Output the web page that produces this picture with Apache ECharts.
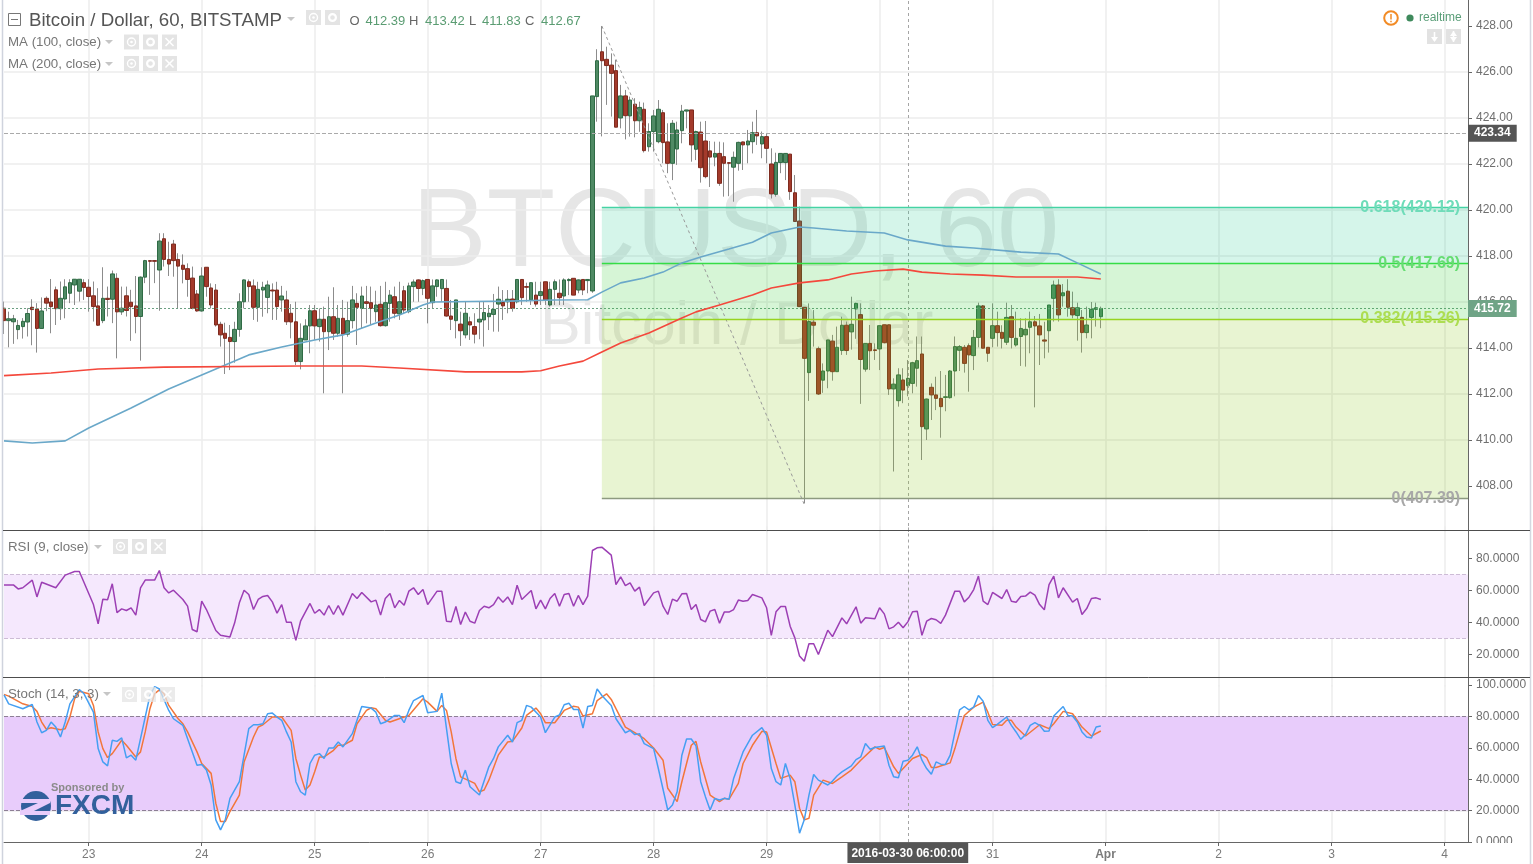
<!DOCTYPE html>
<html><head><meta charset="utf-8">
<style>html,body{margin:0;padding:0;background:#fff}#c{width:1533px;height:864px}</style>
<script src="https://cdn.jsdelivr.net/npm/echarts@6/dist/echarts.min.js"></script>
</head><body><div id="c"></div>
<script>
// ---------- candles, grouped 0-11, 12-32, 33-62, 63-92, 93-125, 126-150, 151-175, 176-200, 201-233
const opens = [
415.73,415.19,415.14,414.80,414.93,415.13,415.77,415.70,414.85,416.16,416.00,416.53,
415.71,416.13,416.38,416.74,416.47,416.84,416.64,416.27,415.83,415.19,416.16,416.12,417.03,415.57,416.27,415.99,415.83,415.37,417.08,417.80,417.80,
417.39,418.75,417.85,418.52,417.85,417.60,417.45,417.04,416.35,415.61,417.51,416.61,416.52,415.03,414.64,414.46,414.28,414.81,416.01,416.88,416.70,415.77,416.52,416.20,416.52,416.52,416.09,416.09,415.51,415.14,
413.41,414.35,414.96,415.62,414.93,415.25,414.71,415.36,414.64,415.29,414.60,415.19,415.94,415.72,416.01,415.97,415.58,415.90,414.97,415.94,416.23,415.48,416.49,415.58,416.67,416.96,416.59,416.98,415.97,416.67,
416.58,416.59,415.39,415.19,415.04,414.57,415.14,414.93,415.13,415.22,415.36,415.46,415.91,415.98,416.01,416.13,416.01,416.98,416.67,416.09,416.30,416.28,416.88,415.87,416.55,416.38,416.26,416.93,417.03,416.52,416.98,416.93,416.48,
424.93,426.88,426.55,426.30,426.06,424.00,424.96,424.09,424.60,423.88,424.38,422.75,423.41,422.97,424.23,422.96,422.03,422.65,423.45,424.30,424.35,422.64,423.39,423.00,422.57,
422.30,422.46,422.32,422.06,421.86,422.03,422.96,422.83,422.97,423.36,422.87,423.19,422.00,420.68,422.06,422.06,422.43,420.75,419.52,415.77,412.93,415.12,413.97,412.60,413.00,
414.30,412.97,413.89,414.99,414.70,415.70,415.45,413.08,414.20,413.92,413.96,415.01,415.01,412.22,411.71,412.61,412.36,412.46,413.12,413.74,410.48,412.29,411.96,411.81,411.85,
411.84,413.00,413.90,414.03,414.10,413.67,414.46,415.83,414.03,414.42,414.97,414.68,414.25,415.36,414.13,414.50,414.57,414.90,415.14,414.96,414.35,414.75,416.16,416.74,416.27,416.47,415.75,415.41,415.33,414.67,415.33,415.68,415.36];
const closes = [
415.19,415.27,415.27,414.98,415.16,415.50,415.67,414.85,415.61,415.95,415.80,415.71,
416.16,416.66,416.84,416.99,416.99,416.63,416.24,415.80,414.99,416.16,416.11,417.22,415.57,415.73,415.63,415.80,415.37,417.08,417.80,417.77,417.77,
418.65,417.85,417.65,417.80,417.56,417.42,416.98,415.72,415.61,417.13,416.67,415.87,415.00,414.57,414.42,414.28,414.81,416.01,416.96,416.67,415.77,416.55,416.64,416.74,416.48,415.80,416.26,415.14,415.13,413.41,
414.42,414.96,415.62,414.96,415.25,414.71,415.36,414.64,415.29,414.60,415.19,416.09,415.77,416.26,415.94,415.72,415.87,414.97,415.97,416.30,415.51,416.01,415.65,416.70,416.87,416.59,416.93,416.16,416.70,416.96,
416.98,415.39,415.25,416.09,414.75,415.51,415.00,414.60,415.25,415.54,415.51,415.68,416.12,415.83,416.12,415.72,416.98,416.19,416.64,416.84,415.91,416.45,416.09,416.55,416.88,416.19,416.96,416.98,416.30,416.96,416.52,416.98,424.96,
426.49,426.49,426.28,425.94,423.60,424.96,424.10,424.78,423.88,424.46,422.58,423.41,424.09,424.38,422.93,422.03,423.77,423.48,424.30,424.35,422.83,423.41,421.84,421.45,422.30,
422.46,421.16,422.03,422.03,422.29,422.94,422.83,423.00,423.36,423.22,423.19,422.68,420.70,422.07,422.46,422.46,420.80,419.50,415.80,413.55,415.15,414.99,412.00,413.00,414.35,
412.97,414.03,414.99,413.89,415.03,415.94,413.50,414.20,413.88,413.89,414.97,414.23,412.22,412.43,412.83,412.17,412.68,413.36,413.45,410.58,411.78,411.96,411.81,411.45,411.88,
413.00,414.06,414.06,413.33,413.70,414.46,415.83,413.99,413.77,414.97,414.67,414.42,415.33,414.46,414.42,414.85,414.81,415.14,414.96,414.57,414.30,415.87,416.74,415.44,416.40,415.77,415.44,415.75,414.67,415.00,415.68,415.75,415.72];
const lows = [
414.61,414.03,414.18,414.38,414.41,414.50,414.12,413.80,414.85,415.60,414.64,415.00,
415.22,415.29,415.95,415.87,416.02,416.09,415.58,415.15,414.96,415.08,415.37,415.08,413.55,415.44,415.37,414.31,414.64,413.45,416.82,416.31,416.82,
415.62,417.54,417.13,417.10,415.72,416.81,416.23,415.68,415.58,415.58,416.23,415.72,414.93,414.06,412.87,413.04,413.36,414.49,415.72,416.01,415.22,415.14,415.36,415.51,415.22,415.22,415.58,415.00,414.42,413.26,
413.07,414.35,413.77,414.35,414.28,412.03,413.91,414.35,414.49,412.03,414.49,414.85,414.13,414.85,415.07,415.00,415.14,414.93,414.93,415.14,415.29,415.22,415.51,415.51,416.01,416.01,416.30,415.07,415.72,416.23,
416.01,415.36,414.78,414.42,414.09,414.42,414.35,414.20,414.38,414.06,414.78,414.71,414.71,415.22,415.51,415.58,415.94,415.87,416.01,415.87,415.80,415.87,415.87,415.80,415.87,415.87,415.87,416.30,416.30,416.38,416.30,416.38,416.40,
423.84,423.20,424.57,424.06,423.60,423.55,423.07,423.19,423.16,423.40,422.50,422.54,422.54,422.90,422.03,421.60,421.30,421.96,422.90,423.55,422.10,422.17,421.19,421.38,421.00,
421.90,421.05,420.58,420.60,420.36,421.71,421.74,422.03,422.46,422.83,422.25,422.03,420.50,420.58,421.60,421.30,420.44,419.50,415.80,407.25,411.70,414.06,411.96,412.05,412.25,
412.58,412.97,413.70,413.70,413.93,414.40,411.57,412.97,413.04,413.48,413.04,414.20,411.96,408.63,411.45,411.60,411.90,412.03,412.32,409.13,410.00,410.87,411.30,410.10,411.25,
411.80,411.90,413.00,412.93,412.10,413.04,414.03,413.99,413.40,414.03,414.06,413.98,414.13,413.98,414.06,413.22,413.19,413.77,411.42,413.26,413.55,413.80,415.15,415.15,415.80,415.36,415.29,414.32,413.80,414.42,414.42,414.93,414.86];
const highs = [
416.02,415.58,415.44,415.22,415.30,415.73,416.12,415.95,416.20,416.24,417.00,416.67,
416.89,416.99,416.99,416.99,416.99,416.99,416.99,416.89,416.60,417.51,416.67,417.37,417.25,416.67,416.67,416.53,417.13,417.11,417.83,417.80,417.80,
418.99,418.99,418.62,418.70,418.12,418.07,417.68,417.54,416.52,417.51,417.51,416.81,416.78,415.14,415.10,415.00,415.14,416.38,416.98,416.98,416.98,416.88,416.88,416.93,416.81,416.88,416.70,416.49,415.91,416.01,
415.07,415.25,415.87,415.87,415.72,415.80,416.23,416.64,415.87,416.09,416.01,416.70,416.38,416.67,416.70,416.67,416.49,416.70,416.88,416.52,416.67,416.88,416.70,416.84,416.98,416.98,416.98,416.98,416.98,416.98,
416.98,416.98,416.09,416.09,415.58,416.01,415.36,415.51,416.01,416.01,415.87,416.35,416.67,416.52,416.52,416.52,416.98,416.98,416.84,416.84,416.88,416.88,416.88,416.88,416.98,416.98,417.03,417.03,417.03,416.98,416.98,417.00,424.96,
426.99,428.00,427.10,426.81,426.52,425.44,425.22,424.93,424.86,424.71,424.67,423.77,424.35,424.78,424.35,423.77,423.91,423.84,424.57,424.35,424.35,423.45,423.84,423.87,423.00,
422.97,422.97,422.94,422.06,422.54,422.97,422.97,423.48,423.84,424.35,423.41,423.33,422.68,422.49,422.46,422.46,422.43,421.52,420.15,415.77,415.94,415.65,414.06,413.33,414.35,
414.57,414.93,415.36,415.15,416.23,415.97,415.94,414.20,415.00,414.20,414.97,415.01,415.01,412.68,413.12,413.12,413.48,413.40,414.50,414.50,411.80,412.46,412.75,413.00,412.83,
413.04,414.50,414.13,414.13,414.20,414.78,415.97,415.87,414.03,415.94,415.58,414.99,415.97,415.87,415.58,415.29,415.29,415.58,415.39,415.48,415.14,415.87,416.93,416.99,416.78,416.99,416.45,415.97,415.65,415.80,416.00,415.97,415.80];

// ---------- moving averages: [candle index, value] read at line vertices
const ma100 = [[0,409.96],[6,409.87],[13,409.96],[18,410.52],[27,411.39],[35,412.22],[46,413.17],[52,413.70],[59,414.04],[66,414.35],[72,414.57],[79,415.09],[84,415.43],[89,415.87],[91,416.00],[99,416.02],[107,416.04],[117,416.09],[124,416.10],[127,416.43],[131,416.83],[136,417.04],[140,417.30],[144,417.70],[148,417.96],[154,418.30],[159,418.60],[163,419.00],[169,419.26],[172,419.22],[179,419.09],[187,419.00],[192,418.70],[200,418.43],[206,418.35],[216,418.17],[224,418.09],[228,417.70],[233,417.22]];
const ma200 = [[0,412.80],[10,412.91],[20,413.09],[34,413.17],[63,413.22],[76,413.22],[84,413.13],[98,412.96],[110,412.96],[114,413.01],[118,413.22],[123,413.43],[127,413.83],[131,414.22],[137,414.65],[144,415.30],[147,415.57],[152,415.87],[159,416.30],[163,416.61],[169,416.83],[175,416.96],[180,417.22],[185,417.35],[191,417.43],[195,417.30],[201,417.22],[208,417.17],[215,417.09],[228,417.09],[233,417.00]];

// ---------- RSI (9, close)
const rsi = [[0,63.5],[2,63.5],[3,61],[4,61.7],[6,66.5],[7,56],[8,65.2],[11,61.7],[13,69.6],[15,71.9],[16,71.9],[19,51.2],[20,39.2],[21,54.6],[22,54.2],[23,64.2],[24,46.2],[25,48.5],[26,47.5],[27,49.2],[28,44.6],[29,61.7],[30,66.5],[32,66.5],[33,72.5],[34,61.7],[35,58.5],[36,60.2],[38,54.4],[39,50.2],[40,35.6],[41,34.2],[42,53.3],[43,48.1],[45,35],[46,32],[48,31],[49,39.8],[50,52.3],[51,60.2],[52,57.5],[53,48.1],[54,54.4],[55,56.3],[56,56.9],[57,52.9],[58,45.8],[59,51.2],[60,40.2],[61,40.2],[62,28.8],[63,40.8],[65,51.9],[66,45.8],[67,48.1],[68,44.6],[69,50.6],[70,45],[71,50.6],[72,44.6],[74,58.1],[75,55],[76,58.8],[78,52.9],[79,54],[80,44.6],[81,55],[82,58.1],[83,49.2],[84,53.8],[85,50.8],[86,59.6],[87,61.7],[88,57.5],[89,60.6],[90,51.2],[92,59.6],[93,59.6],[94,40.8],[95,40.4],[96,50],[97,38.7],[98,46.5],[99,40.8],[100,39.6],[101,47.5],[102,50.2],[103,49.2],[104,51.2],[105,56],[106,52.7],[107,56],[108,51.2],[109,63.3],[110,54.4],[112,60],[113,48.5],[114,54],[115,48.5],[116,55],[117,58.1],[118,50.2],[119,57.5],[120,58.1],[121,50.2],[122,56.9],[123,51.2],[124,56.5],[125,85],[126,86.7],[127,87.1],[129,82.1],[130,63.7],[131,68.5],[132,63.1],[133,64.8],[134,59.6],[135,62.1],[136,50.6],[138,58.5],[139,59.6],[140,50.2],[141,45],[142,54.6],[143,53.3],[144,57.9],[145,58.1],[146,48.1],[147,51.2],[148,41.9],[149,40.4],[150,47.1],[151,48.1],[152,39.6],[153,46.5],[154,46.5],[155,48.1],[156,54],[157,53.3],[158,53.8],[159,57.5],[161,55.4],[162,49.2],[163,32],[164,46.7],[165,50],[166,50],[167,37.7],[168,30.4],[169,19],[170,15.8],[171,26.7],[172,26.7],[173,20],[175,35.2],[176,31.2],[178,42.9],[179,39.2],[181,49.8],[182,39.6],[183,42.9],[185,42.3],[186,49.2],[187,45.4],[188,36],[189,37.3],[190,40.2],[191,36.7],[192,40.4],[193,46.7],[194,47.1],[195,32],[196,40.8],[197,42.5],[198,41.7],[199,39.4],[200,44.6],[202,59.6],[203,59.6],[204,52.9],[205,55.8],[206,60.6],[207,69],[208,53.3],[209,51.2],[210,58.8],[212,55],[213,60.6],[214,53.3],[215,52.7],[216,56.3],[217,56.5],[218,59],[219,57.1],[220,51.2],[221,47.9],[222,63.7],[223,69],[224,55.4],[225,61.7],[227,52.7],[228,55],[229,45],[230,48.7],[231,55],[232,55.4],[233,54.4]];

// ---------- Stoch (14, 3, 3)
const stochK = [[0,93.7],[1,88],[4,84.9],[6,87.6],[7,76.4],[8,69.6],[9,71.1],[10,76.4],[11,73.2],[12,66.9],[13,76.4],[14,88],[16,97.1],[17,94.4],[19,82.7],[20,59.5],[21,51],[22,48.5],[23,64.8],[24,64.1],[25,66.3],[26,53.6],[27,55.3],[28,52.1],[29,65.8],[31,93.3],[32,99],[33,97.5],[35,83.8],[36,78.5],[38,74.3],[39,65.8],[41,48.9],[42,49.4],[43,45.8],[44,36.3],[45,14.1],[46,7.7],[47,14.1],[48,27.8],[50,38.4],[52,72.2],[53,74.7],[54,74.7],[55,75.3],[56,81.7],[57,82.1],[58,79.6],[59,77.5],[60,70.1],[61,63.7],[62,38.4],[63,32],[64,29.9],[65,50],[66,55.3],[67,56.3],[68,53.2],[69,59.9],[70,59.9],[71,63.7],[72,60.6],[74,69],[76,86.3],[78,85.3],[79,82.7],[80,75.3],[81,76.4],[83,80.6],[84,80.6],[85,76],[86,83.8],[87,90.1],[89,93.3],[90,82.3],[92,83.2],[93,94.8],[94,72.2],[95,50],[96,38.4],[97,37.3],[98,45.8],[99,35.2],[101,29.9],[103,47.9],[104,53.2],[105,60.6],[107,68],[108,63.7],[109,76],[110,77.5],[111,87],[112,85.9],[114,79.6],[115,69.6],[117,79.6],[118,81],[119,87.4],[120,88.4],[121,84.4],[122,84.4],[123,72.6],[124,86.3],[125,87],[126,97.5],[127,93.3],[129,87],[130,78.5],[132,69.6],[133,71.1],[134,68.4],[135,69],[136,62.7],[138,59.5],[139,46.8],[141,20.4],[142,23.6],[143,32],[144,55.3],[145,65.6],[146,65.6],[147,61.2],[148,38.4],[149,28.9],[150,20.4],[151,27.8],[152,26.8],[153,27.8],[154,27.2],[155,40.5],[156,48.9],[157,57.4],[159,68],[161,72.8],[162,68],[163,46.8],[164,38.4],[165,36.3],[166,50],[167,40.5],[168,23.6],[169,5.6],[170,14.1],[171,29.9],[172,43],[173,39.4],[175,36.3],[176,38.8],[177,42.2],[178,44.7],[180,48.5],[181,52.5],[182,54.2],[183,62.7],[184,59.1],[185,60.2],[187,61.2],[188,48.9],[189,41.5],[190,40.9],[191,51.5],[192,52.1],[193,55.3],[194,60.6],[195,52.1],[196,46.8],[197,43.2],[198,51],[199,49.6],[200,49.4],[201,55.3],[203,84.2],[204,86.3],[205,84.2],[206,85.9],[207,93.3],[208,89.7],[209,77.5],[210,72.8],[211,74.9],[213,79.6],[214,74.3],[215,70.1],[216,65.4],[217,68.4],[218,74.3],[219,76],[220,74.3],[221,70.5],[222,70.7],[223,80.2],[225,86.3],[226,80.6],[227,80.2],[228,76.4],[229,70.1],[230,66.9],[231,66.3],[232,73.2],[233,73.9]];
const stochD = [[0,94],[1,92.9],[4,88],[6,86.3],[7,83.2],[8,76.4],[9,71.8],[10,72.8],[12,71.5],[13,72.2],[14,79.6],[15,91.2],[16,96],[18,94.4],[19,87],[20,70.1],[21,59.5],[22,53.8],[23,56.3],[25,64.8],[26,61.6],[28,54.2],[29,57.4],[30,70.1],[31,84.9],[32,94.4],[33,96.9],[34,94.4],[35,87],[37,78.5],[38,75.3],[39,70.1],[41,57.4],[42,50],[44,43.7],[45,24.6],[46,13],[47,13],[48,19.4],[50,29.9],[51,51],[53,66.9],[54,73.2],[55,74.7],[57,79.6],[59,79.6],[61,71.1],[62,53.2],[63,42.6],[64,33.1],[65,36.3],[66,44.7],[67,54.2],[68,54.2],[70,58.4],[71,61.6],[72,61.6],[74,64.8],[75,75.3],[77,83.8],[78,85.5],[79,84.9],[81,77.5],[82,76.4],[85,79.6],[86,80.6],[89,91.2],[90,89.1],[92,83.2],[93,87],[94,83.8],[95,70.1],[96,53.2],[97,41.5],[99,38.8],[100,37.3],[101,32],[102,33.1],[103,39.4],[105,55.3],[107,63.7],[108,64.1],[110,72.6],[111,80.6],[113,85.3],[114,81.7],[115,76],[117,76],[119,83.8],[121,86.5],[122,85.9],[123,80.2],[125,81.7],[126,90.1],[128,94.4],[129,90.8],[130,84.9],[132,73.2],[134,69.6],[136,65.8],[138,59.9],[140,52.1],[141,34.2],[143,25.7],[144,38.4],[146,61.6],[147,64.1],[148,51],[150,29.9],[152,25.7],[153,27.8],[154,27.2],[156,37.3],[157,50],[159,61.6],[161,70.5],[162,70.1],[164,50],[165,40.5],[167,42.6],[168,38.4],[169,21.5],[170,14.1],[171,15.1],[172,29.9],[174,39.4],[176,37.3],[178,41.5],[180,45.8],[182,52.1],[185,60.6],[186,59.1],[187,60.2],[189,47.9],[190,43.7],[193,53.2],[195,55.7],[196,53.8],[197,47.5],[198,47.5],[201,50.4],[202,59.5],[204,80.6],[206,85.9],[208,89.1],[209,82.7],[210,74.9],[212,74.3],[213,77.5],[214,77.5],[215,73.2],[217,67.5],[220,74.7],[222,72.2],[223,75.3],[225,83.2],[227,81.7],[229,73.2],[231,67.5],[233,70.7]];

// ---------- axes and annotations
const hourCount = 312;
const categories = Array.from({length: hourCount}, (_, i) => 'h' + i);
const dayTickIndex = [18,42,66,90,114,138,162,186,210,234,258,282,306];
const dayTickLabels = ['23','24','25','26','27','28','29','30','31','Apr','2','3','4'];
const priceTicks = [408,410,412,414,416,418,420,422,424,426,428];
const rsiTicks = [20,40,60,80];
const stochTicks = [0,20,40,60,80,100];
const crossIndex = 192, crossLabel = '2016-03-30 06:00:00';
const crossPrice = 423.34, lastPrice = 415.72;
const fibLevels = [420.12, 417.69, 415.26, 407.45];
const fibNames = ['0.618(420.12)', '0.5(417.69)', '0.382(415.26)', '0(407.39)'];
const fibStart = 127;
const trendFrom = [127, 428.0], trendTo = [170, 407.2];

const isDay = i => dayTickIndex.includes(i);
const F = 'Liberation Sans, Arial, sans-serif';
const GRID_COL = '#ececec', AXIS_COL = '#666', LBL = '#6f6f6f';

const grids = [
  {left: 4, width: 1464, top: 0, height: 532},
  {left: 4, width: 1464, top: 526.5, height: 160},
  {left: 4, width: 1464, top: 685, height: 157}
];
const xAxes = [0, 1, 2].map(k => ({
  type: 'category', gridIndex: k, data: categories, boundaryGap: false,
  offset: k === 2 ? 1 : 0,
  axisLine: {show: k === 2, lineStyle: {color: AXIS_COL}},
  axisTick: {show: k === 2, interval: i => isDay(i), length: 4, lineStyle: {color: AXIS_COL}},
  axisLabel: {
    show: k === 2, interval: i => isDay(i), margin: 6, fontFamily: F, fontSize: 12, color: '#7a7a7a', hideOverlap: false,
    formatter: (v, i) => {
      const t = dayTickLabels[dayTickIndex.indexOf(i)];
      return t === 'Apr' ? '{b|Apr}' : (t || '');
    },
    rich: {b: {fontFamily: F, fontSize: 12, fontWeight: 'bold', color: '#7a7a7a'}}
  },
  splitLine: {show: true, interval: i => isDay(i), lineStyle: {color: GRID_COL, width: 1.5}}
}));
function yAxis(k, min, max, interval, ticks, digits) {
  return {
    type: 'value', gridIndex: k, position: 'right', min, max, interval, scale: true,
    axisLine: {show: true, onZero: false, lineStyle: {color: AXIS_COL}},
    axisTick: {show: true, length: 4, customValues: ticks, lineStyle: {color: AXIS_COL}},
    axisLabel: {margin: 8, fontFamily: F, fontSize: 12, color: LBL, customValues: ticks, padding: [3, 0, 0, 0],
      formatter: v => v.toFixed(digits)},
    splitLine: {show: true, showMinLine: false, showMaxLine: false, lineStyle: {color: GRID_COL, width: 1.5}}
  };
}
const yAxes = [
  yAxis(0, 406, 429.13, 2, priceTicks, 2),
  yAxis(1, 0, 100, 20, rsiTicks, 4),
  yAxis(2, 0, 100, 20, stochTicks, 4)
];

const wickData = lows.map((l, i) => [l, highs[i], l, highs[i]]);
const bodyData = opens.map((o, i) => [o, closes[i], Math.min(o, closes[i]), Math.max(o, closes[i])]);

function hLine(value, color, type, tag) {
  const item = [{xAxis: 0, yAxis: value}, {xAxis: hourCount - 1, yAxis: value}];
  item[0].lineStyle = {color, type, width: 1};
  item[0].label = tag ? {show: true, position: 'end', distance: 0, formatter: tag.text, color: '#fff',
    backgroundColor: tag.bg, padding: [3, 6, 2, 6], fontFamily: F, fontSize: 12, fontWeight: 'bold'} : {show: false};
  return item;
}
const fibColors = ['#45d3a4', '#35dd46', '#96d420', '#8d9a80'];
const fibText = ['#6fdcb9', '#66dd72', '#addd52', '#a8a8a8'];
const fibFill = ['rgba(45,205,150,0.2)', 'rgba(50,205,50,0.2)', 'rgba(140,200,30,0.2)'];

const series = [
  {type: 'candlestick', name: 'wick', xAxisIndex: 0, yAxisIndex: 0, data: wickData, barWidth: 1, z: 2,
   itemStyle: {color: '#8c8c8c', color0: '#8c8c8c', borderColor: '#8c8c8c', borderColor0: '#8c8c8c', borderWidth: 1},
   silent: true},
  {type: 'candlestick', name: 'BTCUSD', xAxisIndex: 0, yAxisIndex: 0, data: bodyData, barWidth: 4, z: 3,
   itemStyle: {color: '#4f8a64', color0: '#a33a2b', borderColor: '#2f6b45', borderColor0: '#7e2b1f', borderWidth: 1},
   silent: true,
   markLine: {silent: true, symbol: 'none', animation: false, z: 4,
     data: [hLine(crossPrice, '#aaaaaa', 'dashed', {text: String(crossPrice), bg: '#555555'}),
            hLine(lastPrice, '#6c9f82', [2, 2], {text: String(lastPrice), bg: '#6fa486'})]}},
  {type: 'line', name: 'Fib', xAxisIndex: 0, yAxisIndex: 0, z: 5, data: [trendFrom, trendTo], showSymbol: false, silent: true,
   lineStyle: {color: '#999', type: [3, 3], width: 1},
   markArea: {silent: true, z: 5, animation: false, data: [0, 1, 2].map(i => [
     {xAxis: fibStart, yAxis: fibLevels[i], itemStyle: {color: fibFill[i]}},
     {xAxis: hourCount - 1, yAxis: fibLevels[i + 1]}])},
   markLine: {silent: true, symbol: 'none', z: 6, animation: false, data: fibLevels.map((v, i) => [
     {xAxis: fibStart, yAxis: v, lineStyle: {color: fibColors[i], type: 'solid', width: 1.3},
      label: {show: true, position: 'insideEnd', distance: 8, formatter: fibNames[i], color: fibText[i],
        fontFamily: F, fontSize: 16, fontWeight: 'bold'}},
     {xAxis: hourCount - 1, yAxis: v}])}},
  {type: 'line', name: 'MA 100', xAxisIndex: 0, yAxisIndex: 0, z: 7, data: ma100, showSymbol: false, silent: true,
   lineStyle: {color: '#6aa8c9', width: 1.6}},
  {type: 'line', name: 'MA 200', xAxisIndex: 0, yAxisIndex: 0, z: 7, data: ma200, showSymbol: false, silent: true,
   lineStyle: {color: '#f4483c', width: 1.6}},
  {type: 'line', name: 'RSI', xAxisIndex: 1, yAxisIndex: 1, z: 4, data: rsi, showSymbol: false, silent: true,
   lineStyle: {color: '#9c3fb4', width: 1.5},
   markArea: {silent: true, z: 1, animation: false, data: [[{xAxis: 0, yAxis: 70, itemStyle: {color: '#f5e8fd'}}, {xAxis: hourCount - 1, yAxis: 30}]]},
   markLine: {silent: true, symbol: 'none', z: 2, animation: false, label: {show: false},
     lineStyle: {color: '#cdbcd6', type: 'dashed', width: 1},
     data: [{yAxis: 70}, {yAxis: 30}]}},
  {type: 'line', name: '%D', xAxisIndex: 2, yAxisIndex: 2, z: 4, data: stochD, showSymbol: false, silent: true,
   lineStyle: {color: '#f2763a', width: 1.5},
   markArea: {silent: true, z: 1, animation: false, data: [[{xAxis: 0, yAxis: 80, itemStyle: {color: '#e8ccfb'}}, {xAxis: hourCount - 1, yAxis: 20}]]},
   markLine: {silent: true, symbol: 'none', z: 2, animation: false, label: {show: false},
     lineStyle: {color: '#8d7f95', type: 'dashed', width: 1},
     data: [{yAxis: 80}, {yAxis: 20}]}},
  {type: 'line', name: '%K', xAxisIndex: 2, yAxisIndex: 2, z: 4, data: stochK, showSymbol: false, silent: true,
   lineStyle: {color: '#459ff2', width: 1.5}}
];
// crosshair through all three panes; the label sits on the bottom pane
[1, 6, 5].forEach((idx, n) => {
  const s = series[idx];
  const ml = s.markLine;
  const entry = n === 1
    ? {xAxis: crossIndex, lineStyle: {color: '#a5a5a5', type: [3, 3], width: 1},
       label: {show: true, position: 'start', distance: 1, formatter: crossLabel, color: '#fff', backgroundColor: '#555',
         padding: [5, 4, 3, 4], fontFamily: F, fontSize: 12, fontWeight: 'bold'}}
    : {xAxis: crossIndex, lineStyle: {color: '#a5a5a5', type: [3, 3], width: 1}, label: {show: false}};
  ml.data = ml.data.concat([entry]);
});

// ---------- page chrome
const G = [];
const T = (x, y, text, fill, font, extra) => G.push(Object.assign({type: 'text', x, y, z: 20, silent: true,
  style: {text, fill, font, textVerticalAlign: 'middle'}}, extra || {}));
const R = (x, y, w, h, fill, op, z) => G.push({type: 'rect', z: z || 20, silent: true, shape: {x, y, width: w, height: h}, style: {fill, opacity: op == null ? 1 : op}});
const L = (x1, y1, x2, y2, stroke, w, z) => G.push({type: 'line', z: z || 25, silent: true, shape: {x1, y1, x2, y2}, style: {stroke, lineWidth: w || 1}});
const TRI = (x, y) => G.push({type: 'polygon', z: 20, silent: true, shape: {points: [[x, y], [x + 8, y], [x + 4, y + 4]]}, style: {fill: '#c6c6c6'}});
function icons(xs, y, op) {
  xs.forEach((x, n) => {
    R(x, y, 15, 15, '#e4e4e4', op);
    const cx = x + 7.5, cy = y + 7.5;
    if (n === 2) {
      L(cx - 4, cy - 4, cx + 4, cy + 4, '#fff', 1.6, 21); L(cx + 4, cy - 4, cx - 4, cy + 4, '#fff', 1.6, 21);
    } else if (n === 0) {
      G.push({type: 'circle', z: 21, silent: true, shape: {cx, cy, r: 4}, style: {fill: 'none', stroke: '#fff', lineWidth: 1.4}});
      G.push({type: 'circle', z: 21, silent: true, shape: {cx, cy, r: 1.3}, style: {fill: '#fff'}});
    } else {
      G.push({type: 'circle', z: 21, silent: true, shape: {cx, cy, r: 3.4}, style: {fill: 'none', stroke: '#fff', lineWidth: 2.2}});
    }
  });
}
// watermark
G.push({type: 'text', x: 412, y: 235, z: 0, silent: true, style: {text: 'BTCUSD, 60', fill: '#e6e6e6', font: '112px ' + F, textVerticalAlign: 'middle'}});
G.push({type: 'text', x: 540, y: 327, z: 0, silent: true, style: {text: 'Bitcoin / Dollar', fill: '#e8e8e8', font: '61px ' + F, textVerticalAlign: 'middle'}});
// pane frame
R(1470, 843, 60, 21, '#fff', 1, 18);
L(2.5, 0, 2.5, 864, '#cfd3dd', 1.5);
L(1530.5, 0, 1530.5, 864, '#d4d7e0', 1.5);
L(3, 530.5, 1530, 530.5, '#4d4d4d', 1);
L(3, 677.5, 1530, 677.5, '#4d4d4d', 1);
// legend title
G.push({type: 'rect', z: 20, silent: true, shape: {x: 8.5, y: 13.5, width: 12, height: 12}, style: {fill: 'none', stroke: '#777', lineWidth: 1}});
L(11, 19.5, 18, 19.5, '#777', 1);
T(29, 21, 'Bitcoin / Dollar, 60, BITSTAMP', '#555', '18.7px ' + F);
TRI(287, 17);
icons([306, 325], 10);
T(349.5, 21, 'O', '#666', '13px ' + F); T(365.5, 21, '412.39', '#5a9c72', '13px ' + F);
T(409, 21, 'H', '#666', '13px ' + F); T(425, 21, '413.42', '#5a9c72', '13px ' + F);
T(469, 21, 'L', '#666', '13px ' + F); T(482, 21, '411.83', '#5a9c72', '13px ' + F);
T(525, 21, 'C', '#666', '13px ' + F); T(541, 21, '412.67', '#5a9c72', '13px ' + F);
T(8, 42, 'MA (100, close)', '#777', '13.3px ' + F); TRI(105, 40); icons([124, 143, 162], 34.5);
T(8, 64, 'MA (200, close)', '#777', '13.3px ' + F); TRI(105, 62); icons([124, 143, 162], 56);
T(8, 547, 'RSI (9, close)', '#777', '13.3px ' + F); TRI(94, 545); icons([113, 132, 151], 539);
T(8, 694, 'Stoch (14, 3, 3)', '#777', '13.3px ' + F); TRI(103, 692); icons([122, 141, 160], 687, 0.75);
// status
G.push({type: 'circle', z: 20, silent: true, shape: {cx: 1391, cy: 18, r: 6.8}, style: {fill: '#fff', stroke: '#f28b25', lineWidth: 2}});
L(1391, 14, 1391, 19.5, '#f28b25', 1.5, 21); L(1391, 20.8, 1391, 22.2, '#f28b25', 1.5, 21);
G.push({type: 'circle', z: 20, silent: true, shape: {cx: 1410, cy: 18, r: 3.6}, style: {fill: '#3e8a5c'}});
T(1419, 18, 'realtime', '#5a9e78', '12px ' + F);
R(1427, 29, 15, 15, '#e2e2e2'); R(1446, 29, 15, 15, '#e2e2e2');
L(1434.5, 32, 1434.5, 41, '#fff', 1.6, 21); L(1453.5, 31, 1453.5, 42, '#fff', 1.6, 21);
G.push({type: 'polygon', z: 21, silent: true, shape: {points: [[1431, 37], [1438, 37], [1434.5, 42]]}, style: {fill: '#fff'}});
G.push({type: 'polygon', z: 21, silent: true, shape: {points: [[1450, 36], [1457, 36], [1453.5, 31]]}, style: {fill: '#fff'}});
G.push({type: 'polygon', z: 21, silent: true, shape: {points: [[1450, 37], [1457, 37], [1453.5, 42]]}, style: {fill: '#fff'}});
// sponsor mark
T(51, 788, 'Sponsored by', '#8a8a8a', 'bold 11px ' + F);
G.push({type: 'circle', z: 20, silent: true, shape: {cx: 36, cy: 806, r: 15}, style: {fill: '#32609c'}});
G.push({type: 'polygon', z: 21, silent: true, shape: {points: [[20, 799], [50, 799], [50, 803], [34, 811], [50, 811], [50, 815], [20, 815], [20, 811], [38, 803], [20, 803]]}, style: {fill: '#e8ccfb'}});
T(55, 806, 'FXCM', '#32609c', 'bold 28px ' + F);

const chart = echarts.init(document.getElementById('c'), null, {renderer: 'canvas'});
chart.setOption({
  animation: false, backgroundColor: '#fff', textStyle: {fontFamily: F},
  grid: grids, xAxis: xAxes, yAxis: yAxes, series, graphic: {elements: G}
});
</script></body></html>
